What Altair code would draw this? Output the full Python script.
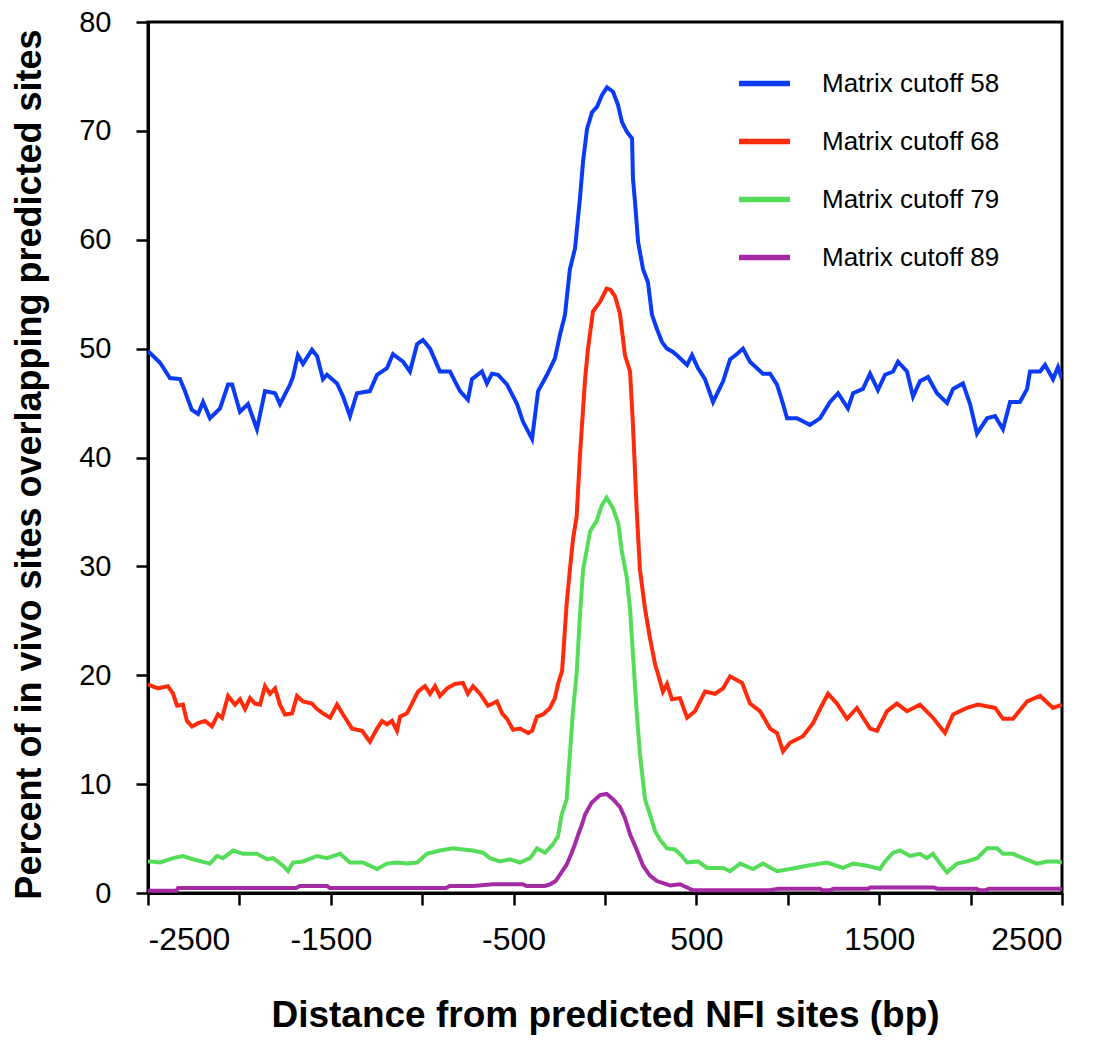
import altair as alt
import pandas as pd

series_names = ["Matrix cutoff 58", "Matrix cutoff 68", "Matrix cutoff 79", "Matrix cutoff 89"]
series_colors = ["#0B3BF5", "#FF2B0A", "#55DD5A", "#A52BA5"]

blue_x = [-2500, -2489, -2434, -2380, -2325, -2298, -2261, -2226, -2199, -2161, -2106, -2062, -2040, -1997,
          -1953, -1904, -1860, -1805, -1778, -1723, -1707, -1680, -1652, -1603, -1575, -1543, -1521, -1466,
          -1433, -1395, -1357, -1286, -1247, -1193, -1160, -1105, -1067, -1028, -996, -957, -903, -848, -793,
          -750, -728, -673, -646, -618, -585, -536, -481, -449, -399, -366, -317, -274, -246, -219, -192,
          -164, -137, -120, -98, -71, -44, -16, 11, 44, 71, 93, 120, 148, 153, 164, 181, 208, 235, 257, 284,
          312, 339, 372, 399, 449, 476, 509, 547, 591, 646, 684, 722, 755, 793, 864, 903, 941, 974, 996,
          1050, 1121, 1176, 1231, 1275, 1329, 1357, 1411, 1450, 1493, 1532, 1576, 1603, 1652, 1685, 1723,
          1767, 1816, 1871, 1904, 1958, 1997, 2035, 2090, 2134, 2177, 2216, 2270, 2309, 2325, 2380, 2407,
          2451, 2478, 2500]
blue_y = [49.8, 49.6, 48.7, 47.3, 47.2, 46.1, 44.4, 44.0, 45.1, 43.6, 44.5, 46.7, 46.7, 44.2,
          44.9, 42.6, 46.1, 45.9, 44.9, 46.7, 47.4, 49.4, 48.6, 49.9, 49.3, 47.2, 47.6, 46.8,
          45.6, 43.8, 45.9, 46.1, 47.6, 48.2, 49.5, 48.8, 47.9, 50.4, 50.8, 50.0, 47.9, 47.9, 46.1,
          45.3, 47.2, 47.9, 46.8, 47.7, 47.6, 46.7, 44.9, 43.3, 41.7, 46.1, 47.6, 49.1, 51.3, 53.1, 57.3,
          59.2, 63.8, 67.2, 70.2, 71.7, 72.2, 73.3, 74.0, 73.6, 72.4, 70.8, 69.9, 69.3, 65.6, 63.5, 59.8,
          57.3, 56.1, 53.1, 51.8, 50.6, 50.0, 49.7, 49.3, 48.5, 49.4, 48.2, 47.2, 45.1, 47.0, 49.0, 49.5,
          50.0, 48.8, 47.7, 47.7, 46.7, 44.9, 43.6, 43.6, 43.0, 43.6, 45.1, 45.9, 44.5, 45.9, 46.3, 47.7,
          46.2, 47.6, 47.9, 48.8, 47.9, 45.6, 47.0, 47.4, 45.9, 45.0, 46.3, 46.8, 44.9, 42.2, 43.6, 43.8,
          42.6, 45.1, 45.1, 46.3, 47.9, 47.9, 48.5, 47.2, 48.3, 47.2]

red_x = [-2500, -2478, -2445, -2391, -2363, -2341, -2309, -2287, -2259, -2226, -2188, -2150, -2117, -2095,
         -2062, -2024, -1997, -1969, -1942, -1915, -1887, -1860, -1833, -1805, -1778, -1751, -1712, -1685,
         -1652, -1603, -1575, -1543, -1504, -1466, -1433, -1384, -1329, -1286, -1247, -1220, -1193, -1165,
         -1138, -1121, -1083, -1050, -1023, -985, -957, -930, -903, -864, -821, -777, -750, -722, -684,
         -640, -591, -563, -536, -503, -465, -421, -399, -372, -339, -301, -274, -257, -235, -228, -210,
         -192, -175, -155, -137, -109, -93, -66, -27, 9, 30, 55, 82, 109, 137, 153, 173, 191, 219, 246,
         274, 290, 317, 339, 366, 410, 449, 492, 547, 602, 646, 684, 750, 793, 848, 903, 941, 974, 1012,
         1083, 1138, 1176, 1220, 1269, 1324, 1378, 1450, 1488, 1543, 1597, 1652, 1723, 1794, 1860, 1904,
         1980, 2040, 2134, 2177, 2232, 2309, 2380, 2451, 2500]
red_y = [19.2, 19.0, 18.8, 19.0, 18.3, 17.2, 17.3, 15.8, 15.3, 15.6, 15.8, 15.3, 16.4, 16.1,
         18.1, 17.3, 17.8, 16.9, 17.9, 17.4, 17.3, 19.0, 18.3, 18.8, 17.3, 16.4, 16.5, 18.1,
         17.6, 17.4, 16.9, 16.5, 16.1, 17.3, 16.4, 15.1, 14.9, 13.9, 15.1, 15.8, 15.5, 15.8,
         14.9, 16.2, 16.5, 17.6, 18.5, 19.0, 18.3, 19.0, 18.1, 18.8, 19.2, 19.3, 18.3, 19.0, 18.3,
         17.2, 17.6, 16.5, 16.0, 15.0, 15.1, 14.7, 14.9, 16.2, 16.4, 17.0, 17.9, 19.2, 20.4, 22.0, 26.5,
         29.7, 32.5, 34.6, 40.2, 47.2, 50.0, 53.4, 54.3, 55.5, 55.4, 54.8, 53.2, 49.4, 47.9, 43.0, 35.3,
         29.7, 26.1, 23.4, 21.0, 20.1, 18.5, 19.2, 17.8, 17.9, 16.1, 16.7, 18.5, 18.3, 18.8, 19.9, 19.3,
         17.4, 16.7, 15.1, 14.7, 13.0, 13.8, 14.4, 15.6, 16.9, 18.3, 17.4, 16.0, 17.0, 15.1, 14.9, 16.7,
         17.4, 16.7, 17.3, 16.1, 14.7, 16.4, 17.0, 17.3, 17.0, 16.0, 16.0, 17.6, 18.1, 17.0, 17.3]

green_x = [-2500, -2489, -2434, -2363, -2309, -2254, -2161, -2123, -2090, -2035, -1980, -1904, -1849, -1816,
           -1761, -1734, -1707, -1652, -1575, -1521, -1450, -1395, -1324, -1247, -1193, -1138, -1083, -1028,
           -974, -903, -832, -777, -722, -667, -629, -574, -520, -465, -410, -372, -328, -284, -257, -237,
           -210, -192, -175, -155, -137, -120, -100, -82, -45, -18, 9, 45, 73, 91, 119, 137, 153, 173, 191,
           219, 246, 274, 301, 339, 383, 421, 449, 509, 558, 646, 684, 739, 810, 864, 941, 1012, 1105, 1214,
           1302, 1357, 1433, 1504, 1532, 1576, 1614, 1668, 1723, 1761, 1794, 1833, 1871, 1926, 1980, 2035,
           2090, 2145, 2177, 2232, 2287, 2363, 2418, 2473, 2500]
green_y = [2.9, 2.9, 2.8, 3.2, 3.4, 3.1, 2.7, 3.4, 3.2, 3.9, 3.6, 3.6, 3.1, 3.2,
           2.5, 2.0, 2.8, 2.9, 3.4, 3.2, 3.6, 2.8, 2.8, 2.2, 2.7, 2.8, 2.7, 2.8,
           3.6, 3.9, 4.1, 4.0, 3.9, 3.7, 3.2, 2.9, 3.1, 2.8, 3.2, 4.1, 3.7, 4.5, 5.2, 7.2,
           8.6, 12.8, 16.7, 20.2, 25.5, 29.7, 31.5, 33.2, 34.2, 35.6, 36.3, 35.3, 33.9, 31.5, 29.0, 26.1,
           21.9, 16.7, 12.8, 8.6, 7.2, 5.7, 4.9, 4.1, 4.0, 3.4, 2.8, 2.9, 2.3, 2.3, 2.0, 2.7, 2.2, 2.7,
           2.0, 2.2, 2.5, 2.8, 2.3, 2.7, 2.5, 2.2, 2.9, 3.7, 3.9, 3.4, 3.6, 3.2, 3.6, 2.7, 1.9, 2.7, 2.9,
           3.2, 4.1, 4.1, 3.6, 3.6, 3.2, 2.7, 2.9, 2.9, 2.8]

purple_x = [-2500, -2345, -2335, -1690, -1670, -1520, -1505, -870, -850, -720, -615, -450, -430, -330,
            -300, -270, -246, -210, -182, -164, -146, -128, -109, -73, -27, 9, 45, 82, 109, 137, 173, 208,
            246, 284, 356, 410, 449, 480, 900, 950, 1176, 1190, 1230, 1250, 1440, 1450, 1800, 1820, 2030,
            2051, 2080, 2100, 2500]
purple_y = [0.2, 0.2, 0.45, 0.45, 0.65, 0.65, 0.45, 0.45, 0.65, 0.65, 0.8, 0.8, 0.65, 0.65,
            0.8, 1.1, 1.7, 2.6, 3.7, 4.5, 5.4, 6.2, 7.2, 8.3, 9.0, 9.1, 8.6, 7.9, 6.9, 5.4, 4.0, 2.5,
            1.6, 1.1, 0.7, 0.8, 0.5, 0.25, 0.25, 0.4, 0.4, 0.25, 0.25, 0.4, 0.4, 0.5, 0.5, 0.4, 0.4,
            0.25, 0.25, 0.4, 0.4]

x_ticks = list(range(-2500, 2501, 500))
y_ticks = list(range(0, 81, 10))

frames = []
for name, xs, ys in zip(series_names,
                        [blue_x, red_x, green_x, purple_x],
                        [blue_y, red_y, green_y, purple_y]):
    frames.append(pd.DataFrame({"distance": xs, "percent": ys, "series": name}))
df = pd.concat(frames, ignore_index=True)

FONT = "Liberation Sans"

chart = alt.Chart(df).mark_line(strokeWidth=4, clip=True).encode(
    x=alt.X("distance:Q",
            scale=alt.Scale(domain=[-2500, 2500], nice=False, zero=False),
            axis=alt.Axis(values=x_ticks,
                          labelExpr="(datum.value % 1000 == 0) ? '' : '' + datum.value",
                          title="Distance from predicted NFI sites (bp)",
                          labelFontSize=32, labelPadding=19,
                          titleBaseline="alphabetic", titleY=133)),
    y=alt.Y("percent:Q",
            scale=alt.Scale(domain=[0, 80], nice=False),
            axis=alt.Axis(values=y_ticks,
                          title="Percent of in vivo sites overlapping predicted sites",
                          labelFontSize=29, labelPadding=25,
                          titleFontSize=36, titleX=-100, titleY=442)),
    color=alt.Color("series:N",
                    scale=alt.Scale(domain=series_names, range=series_colors),
                    legend=alt.Legend(title=None, orient="none", legendX=588, legendY=33,
                                      symbolType="stroke", symbolSize=2601, symbolStrokeWidth=5.5,
                                      labelFontSize=26, labelFont=FONT, labelColor="black",
                                      labelOffset=29, labelLimit=400, rowPadding=16, padding=0)),
    detail="series:N",
).properties(
    width=914, height=871,
    autosize=alt.AutoSizeParams(type="none"),
    padding={"left": 140, "top": 14, "right": 30, "bottom": 145},
).configure_view(
    stroke="black", strokeWidth=3
).configure_axis(
    grid=False, domainColor="black", domainWidth=3,
    tickColor="black", tickWidth=2.5, tickSize=12,
    labelFont=FONT, labelColor="black",
    titleFont=FONT, titleFontSize=37, titleFontWeight="bold", titleColor="black",
)

chart.save("out.html", embed_options={"renderer": "svg", "actions": False})
